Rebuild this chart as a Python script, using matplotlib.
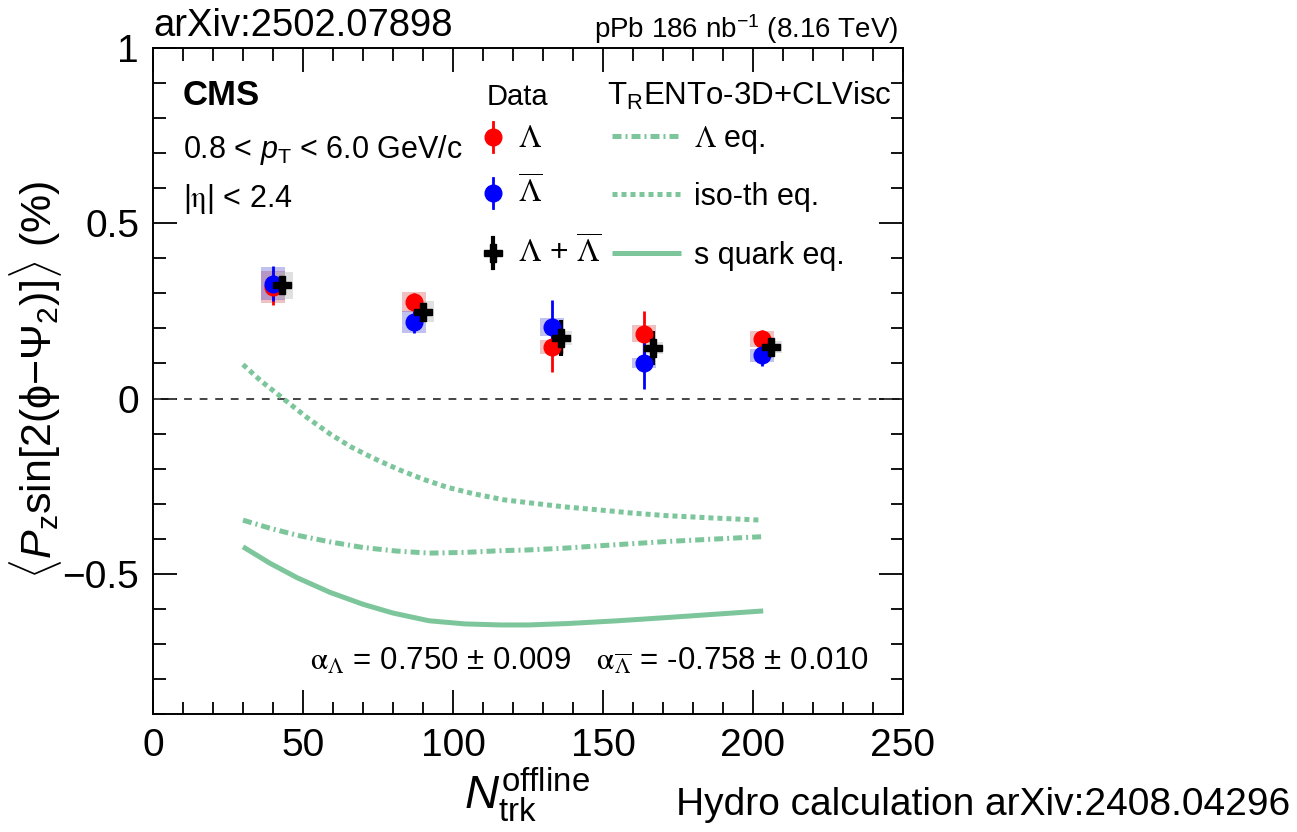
import matplotlib
matplotlib.use("Agg")
import matplotlib.pyplot as plt
from matplotlib.ticker import MultipleLocator

# ---------------- data ----------------
x_lam = [40, 87, 133, 163.5, 203]
lam = [0.318, 0.275, 0.147, 0.185, 0.170]
lam_stat = [0.050, 0.026, 0.072, 0.064, 0.026]
lam_sys = [0.045, 0.029, 0.021, 0.024, 0.022]

x_alam = [40, 87, 133, 163.5, 203]
alam = [0.328, 0.218, 0.204, 0.102, 0.123]
alam_stat = [0.050, 0.032, 0.076, 0.074, 0.030]
alam_sys = [0.048, 0.032, 0.027, 0.014, 0.019]

x_comb = [43, 90, 136, 166.5, 206]
comb = [0.323, 0.247, 0.173, 0.145, 0.147]
comb_stat = [0.027, 0.018, 0.052, 0.049, 0.018]
comb_sys = [0.039, 0.030, 0.019, 0.017, 0.016]

x_iso = [30, 36, 43.4, 51, 59, 66, 73.4, 82, 90, 98, 107, 117, 125, 137, 149, 160, 171, 187, 203]
iso = [0.097, 0.050, 0.0, -0.052, -0.101, -0.138, -0.170, -0.203, -0.230, -0.253, -0.272,
       -0.289, -0.297, -0.309, -0.318, -0.327, -0.334, -0.341, -0.347]

x_leq = [30, 39, 48, 59, 70, 81, 92, 104, 116, 125, 137, 149, 160, 171, 187, 203.4]
leq = [-0.347, -0.370, -0.390, -0.409, -0.425, -0.435, -0.441, -0.439, -0.434, -0.432,
       -0.427, -0.420, -0.414, -0.408, -0.401, -0.394]

x_sq = [30, 39, 48, 59, 70, 80, 92, 104, 116, 125, 138, 155, 171, 188, 203.4]
sq = [-0.423, -0.470, -0.511, -0.553, -0.587, -0.612, -0.634, -0.643, -0.646, -0.646,
      -0.642, -0.634, -0.625, -0.615, -0.606]

# ---------------- style ----------------
SANS = ['Liberation Sans', 'DejaVu Sans']
NARROW = ['Liberation Sans Narrow', 'Liberation Sans', 'DejaVu Sans']
plt.rcParams['font.family'] = SANS
plt.rcParams['mathtext.fontset'] = 'custom'
plt.rcParams['mathtext.rm'] = 'Liberation Sans'
plt.rcParams['mathtext.it'] = 'Liberation Sans:italic'
plt.rcParams['mathtext.bf'] = 'Liberation Sans:bold'

GREEN = '#7dc69b'
W, H = 1297, 832
L, R, T, B = 153, 903, 48, 714

fig = plt.figure(figsize=(W / 100, H / 100), dpi=100)
ax = fig.add_axes([L / W, 1 - B / H, (R - L) / W, (B - T) / H])


def axf(px, py):
    return ((px - L) / (R - L), (B - py) / (B - T))


def fgf(px, py):
    return (px / W, 1 - py / H)


ax.set_xlim(0, 250)
ax.set_ylim(-0.9, 1.0)
ax.xaxis.set_major_locator(MultipleLocator(50))
ax.xaxis.set_minor_locator(MultipleLocator(10))
ax.yaxis.set_major_locator(MultipleLocator(0.5))
ax.yaxis.set_minor_locator(MultipleLocator(0.1))
ax.tick_params(which='both', direction='in', top=True, right=True, width=1.3,
               labelsize=28, pad=10)
ax.tick_params(which='major', length=17)
ax.tick_params(which='minor', length=9)
ax.set_xticks([0, 50, 100, 150, 200, 250])
ax.set_xticklabels(['0', '50', '100', '150', '200', '250'])
ax.set_yticks([-0.5, 0, 0.5, 1])
ax.set_yticklabels(['\u22120.5', '0', '0.5', '1'])
for s in ax.spines.values():
    s.set_linewidth(1.4)

# zero line
ax.axhline(0, color='#444444', lw=1.4, ls=(0, (4, 4)))

# model curves
ax.plot(x_iso, iso, color=GREEN, lw=3.6, ls=(0, (1.0, 0.8)), dash_capstyle='butt')
ax.plot(x_leq, leq, color=GREEN, lw=3.6, ls=(0, (1.8, 0.8, 0.4, 0.8)), dash_capstyle='butt')
ax.plot(x_sq, sq, color=GREEN, lw=3.6, solid_capstyle='butt')

# systematic boxes
ax.bar(x_lam, [2 * s for s in lam_sys], bottom=[v - s for v, s in zip(lam, lam_sys)],
       width=8, color='#cc3333', alpha=0.3, lw=0)
ax.bar(x_alam, [2 * s for s in alam_sys], bottom=[v - s for v, s in zip(alam, alam_sys)],
       width=8, color='#3333cc', alpha=0.3, lw=0)
ax.bar(x_comb, [2 * s for s in comb_sys], bottom=[v - s for v, s in zip(comb, comb_sys)],
       width=7, color='#bbbbbb', alpha=0.45, lw=0)

# data points
ax.errorbar(x_lam, lam, yerr=lam_stat, fmt='o', color='#ff0000', ms=12, elinewidth=2, capsize=0)
ax.errorbar(x_alam, alam, yerr=alam_stat, fmt='o', color='#0000ff', ms=12, elinewidth=2, capsize=0)
ax.errorbar(x_comb, comb, yerr=comb_stat, fmt='P', color='black', ms=13, elinewidth=3, capsize=0)

# ---------------- texts inside ----------------
ax.text(*axf(183, 105), 'CMS', transform=ax.transAxes, fontsize=25, fontweight='bold', va='baseline')
ax.text(*axf(183, 158), r'0.8 < $p_{\mathrm{T}}$ < 6.0 GeV/c', transform=ax.transAxes,
        fontsize=22, va='baseline')
ax.text(*axf(183, 207), r'|$\mathrm{\eta}$| < 2.4', transform=ax.transAxes, fontsize=22,
        va='baseline', math_fontfamily='stix')
ax.text(*axf(487, 105), 'Data', transform=ax.transAxes, fontsize=21, va='baseline')
ax.text(*axf(607, 105), r'T$_{\mathrm{R}}$ENTo-3D+CLVisc', transform=ax.transAxes, fontsize=22.5,
        va='baseline')

# legend: data
lx = 493
for (py, col, mk, ms, lw, lab) in [
        (137, '#ff0000', 'o', 12, 2, r'$\Lambda$'),
        (193, '#0000ff', 'o', 12, 2, r'$\overline{\Lambda}$'),
        (253, 'black', 'P', 13, 3, r'$\Lambda$ + $\overline{\Lambda}$')]:
    x0, y0 = axf(lx, py)
    _, y1 = axf(lx, py - 15)
    _, y2 = axf(lx, py + 15)
    ax.plot([x0, x0], [y1, y2], color=col, lw=lw, transform=ax.transAxes, clip_on=False)
    ax.plot([x0], [y0], marker=mk, ms=ms, color=col, transform=ax.transAxes, clip_on=False)
    ax.text(*axf(518, py + 10), lab, transform=ax.transAxes, fontsize=23, va='baseline',
            math_fontfamily='stix')

# legend: model
for (py, ls, lab) in [
        (136, (0, (1.8, 0.8, 0.4, 0.8)), r'$\Lambda$ eq.'),
        (194, (0, (1.0, 0.8)), 'iso-th eq.'),
        (253, '-', 's quark eq.')]:
    xa, ya = axf(612, py)
    xb, _ = axf(681, py)
    ax.plot([xa, xb], [ya, ya], color=GREEN, lw=3.6, ls=ls, transform=ax.transAxes,
            clip_on=False, dash_capstyle='butt', solid_capstyle='butt')
    ax.text(*axf(694, py + 11), lab, transform=ax.transAxes, fontsize=22, va='baseline',
            math_fontfamily='stix')

ax.text(*axf(310, 670),
        r'$\mathrm{\alpha}_{\Lambda}$ = 0.750 ± 0.009   $\mathrm{\alpha}_{\overline{\Lambda}}$ = -0.758 ± 0.010',
        transform=ax.transAxes, fontsize=22.5, va='baseline', math_fontfamily='stix')

# ---------------- texts outside ----------------
fig.text(*fgf(153, 36), 'arXiv:2502.07898', fontsize=27.5, va='baseline', family=NARROW)
fig.text(*fgf(898, 38), r'pPb 186 nb$^{\mathrm{-1}}$ (8.16 TeV)', fontsize=20, va='baseline',
         ha='right', family=NARROW)
fig.text(*fgf(527, 795), r'$N_{\mathrm{trk}}^{\mathrm{offline}}$', fontsize=34, ha='center',
         va='center')
fig.text(*fgf(1290, 815), 'Hydro calculation arXiv:2408.04296', fontsize=28, ha='right',
         va='baseline', family=NARROW)
fig.text(*fgf(36, 380),
         r'$\langle P_{\mathrm{z}}\mathrm{sin[2(\phi}\mathrm{-}\Psi_{\mathrm{2}}\mathrm{)]}\rangle$ (%)',
         fontsize=31, rotation=90, ha='center', va='center')

fig.savefig('out.png', dpi=100)
